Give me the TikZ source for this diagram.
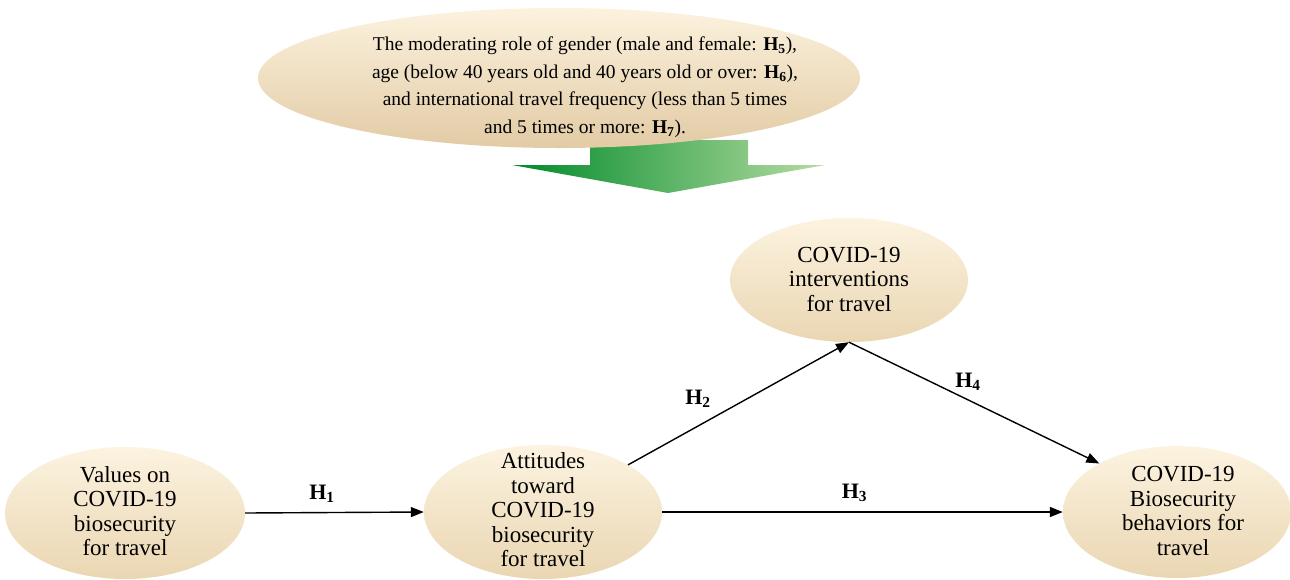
\documentclass[tikz,border=0pt]{standalone}
\usepackage{fontspec}
\setmainfont{Liberation Serif}
\usetikzlibrary{shapes.geometric,arrows.meta}
\definecolor{creamT}{RGB}{252,243,224}
\definecolor{creamB}{RGB}{234,214,178}
\definecolor{topT}{RGB}{252,242,222}
\definecolor{topB}{RGB}{226,203,165}
\definecolor{gD}{RGB}{0,138,42}
\definecolor{gL}{RGB}{182,220,162}
\begin{document}
\begin{tikzpicture}[x=1pt,y=-1pt,
  ell/.style={ellipse, inner sep=0pt, top color=creamT, bottom color=creamB, draw=none},
  txt/.style={align=center, font=\fontsize{23}{24.5}\selectfont, inner sep=0pt},
  hyp/.style={font=\fontsize{22}{24}\selectfont\bfseries, inner sep=0pt},
  conn/.style={-{Triangle[length=13pt,width=10pt]}, line width=1.4pt}]
\useasboundingbox[fill=white] (0,0) rectangle (1290,579);

% green moderating arrow
\path[left color=gD, right color=gL]
  (590,140) -- (748,140) -- (748,165) -- (825,165) -- (668,193) -- (512,165) -- (590,165) -- cycle;

% top ellipse
\node[ellipse, inner sep=0pt, top color=topT, bottom color=topB, minimum width=602pt, minimum height=140pt] (mod) at (559,78) {};
\node[txt, font=\fontsize{19.5}{27.5}\selectfont] (modt) at (585,87)
  {The moderating role of gender (male and female: \textbf{H\textsubscript{5}}),\\
   age (below 40 years old and 40 years old or over: \textbf{H\textsubscript{6}}),\\
   and international travel frequency (less than 5 times\\
   and 5 times or more: \textbf{H\textsubscript{7}}).};

% construct ellipses
\node[ell, minimum width=240pt, minimum height=132pt] (v) at (125,513) {};
\node[ell, minimum width=238pt, minimum height=134pt] (a) at (543,512) {};
\node[ell, minimum width=238pt, minimum height=124pt] (i) at (849,280) {};
\node[ell, minimum width=228pt, minimum height=132pt] (b) at (1177,512) {};

\node[txt] (vt) at (125,511) {Values on\\COVID-19\\biosecurity\\for travel};
\node[txt] (at) at (543,510) {Attitudes\\toward\\COVID-19\\biosecurity\\for travel};
\node[txt] (it) at (849,279) {COVID-19\\interventions\\for travel};
\node[txt] (bt) at (1183,511) {COVID-19\\Biosecurity\\behaviors for\\travel};

% connectors
\draw[conn] (v.east) -- (a.west) node[hyp, pos=0.43, above=9pt] {H\textsubscript{1}};
\draw[conn] (a.east) -- (b.west) node[hyp, pos=0.48, above=10pt] {H\textsubscript{3}};
\draw[conn] (a.29) -- (i.south);
\draw[conn] (i.south) -- (b.148);
\node[hyp] (h2) at (698,399) {H\textsubscript{2}};
\node[hyp] (h4) at (968,382) {H\textsubscript{4}};
\end{tikzpicture}
\end{document}
